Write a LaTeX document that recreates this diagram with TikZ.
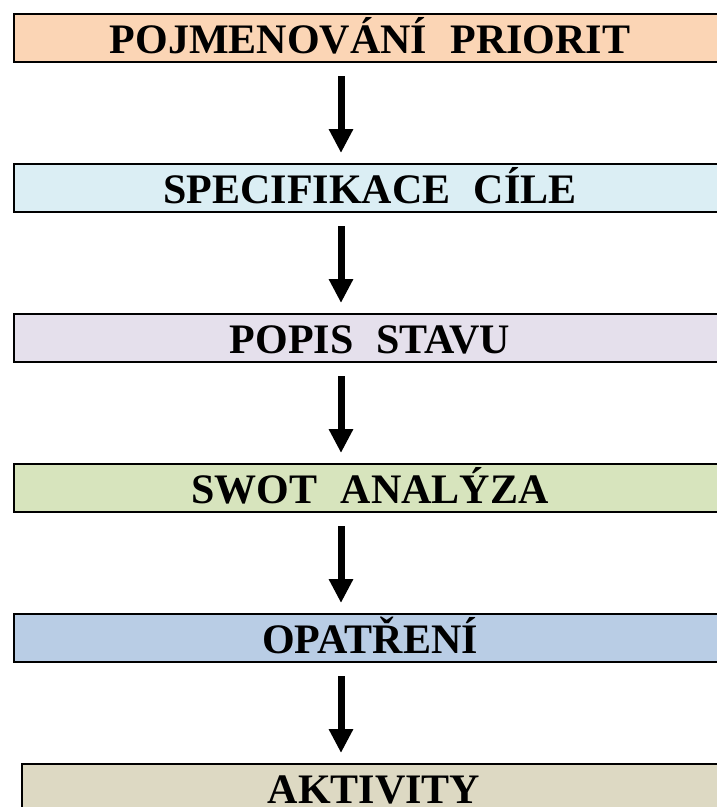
\documentclass[tikz,border=0pt]{standalone}
\usepackage{fontspec}
\setmainfont{Liberation Serif}
\usetikzlibrary{arrows.meta,calc}
\definecolor{c1}{HTML}{FBD5B5}
\definecolor{c2}{HTML}{DBEEF4}
\definecolor{c3}{HTML}{E5E0EC}
\definecolor{c4}{HTML}{D7E4BD}
\definecolor{c5}{HTML}{B9CDE5}
\definecolor{c6}{HTML}{DDD9C3}
\begin{document}
\begin{tikzpicture}[x=1pt,y=-1pt,
  stagebox/.style={draw=black,line width=2pt,rectangle,inner sep=0pt,
    minimum width=712pt,minimum height=48pt,
    text height=30pt,text depth=0pt,
    font=\fontsize{42}{48}\selectfont\bfseries},
  flowarrow/.style={line width=7pt,-{Triangle[width=23pt,length=24pt]}}]
\useasboundingbox (0,0) rectangle (717,807);
\clip (0,0) rectangle (717,807);
\node[stagebox,fill=c1] (b1) at (370,38) {POJMENOVÁNÍ\hspace{0.55em}PRIORIT};
\node[stagebox,fill=c2] (b2) at (370,188) {SPECIFIKACE\hspace{0.55em}CÍLE};
\node[stagebox,fill=c3] (b3) at (370,338) {POPIS\hspace{0.55em}STAVU};
\node[stagebox,fill=c4] (b4) at (370,488) {SWOT\hspace{0.55em}ANALÝZA};
\node[stagebox,fill=c5] (b5) at (370,638) {OPATŘENÍ};
\node[stagebox,fill=c6,minimum width=704pt] (b6) at (374,788) {AKTIVITY};
\coordinate (ax) at (341,0);
\foreach \a/\b in {b1/b2,b2/b3,b3/b4,b4/b5,b5/b6}{
  \draw[flowarrow,shorten <=13pt,shorten >=10pt] (\a.south -| ax) -- (\b.north -| ax);
}
\end{tikzpicture}
\end{document}
